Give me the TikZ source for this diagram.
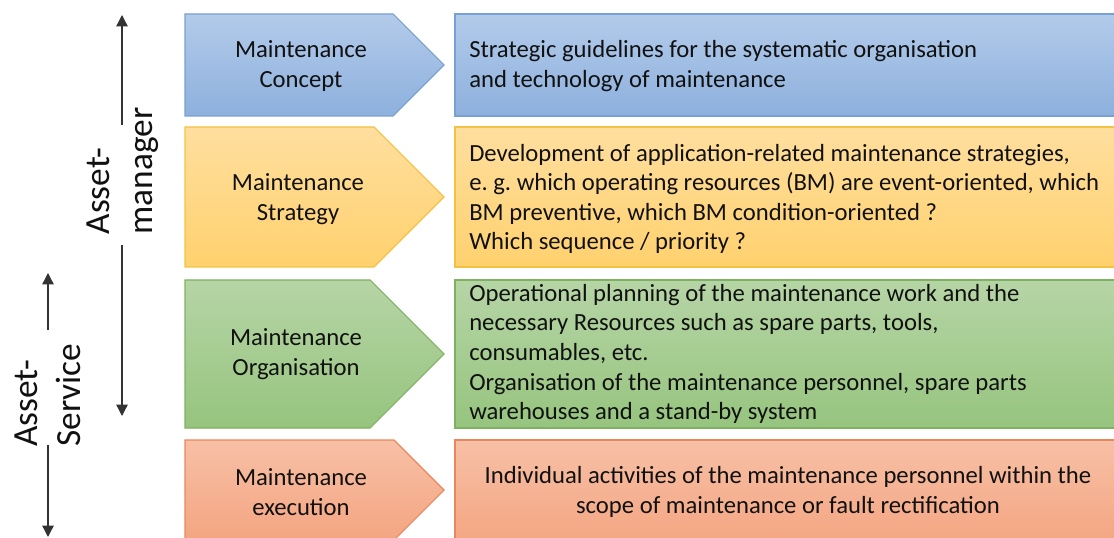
\documentclass[tikz,border=0pt]{standalone}
\usepackage{fontspec}
\setmainfont{Carlito}
\usetikzlibrary{arrows.meta}
\frenchspacing

\definecolor{bluetop}{HTML}{B3CBEA}
\definecolor{bluebot}{HTML}{8DB0DD}
\definecolor{blueline}{HTML}{78A0D2}
\definecolor{oratop}{HTML}{FFDF9F}
\definecolor{orabot}{HTML}{FFD16E}
\definecolor{oraline}{HTML}{F4C143}
\definecolor{grntop}{HTML}{B6D5A6}
\definecolor{grnbot}{HTML}{96C47E}
\definecolor{grnline}{HTML}{7FB162}
\definecolor{redtop}{HTML}{F7C0A6}
\definecolor{redbot}{HTML}{F4A581}
\definecolor{redline}{HTML}{E8875C}
\definecolor{ink}{HTML}{111111}

\tikzset{
  panel/.style={line width=0.8pt},
  bluefill/.style={panel, top color=bluetop, bottom color=bluebot, draw=blueline},
  orafill/.style={panel, top color=oratop, bottom color=orabot, draw=oraline},
  grnfill/.style={panel, top color=grntop, bottom color=grnbot, draw=grnline},
  redfill/.style={panel, top color=redtop, bottom color=redbot, draw=redline},
  levellabel/.style={inner sep=0pt, align=center, text=ink,
    font=\fontsize{18.5}{22.2}\selectfont},
  desclabel/.style={inner sep=0pt, text=ink,
    font=\fontsize{18.5}{22.2}\selectfont},
  rolelabel/.style={inner sep=0pt, align=left, rotate=90, text=ink,
    font=\fontsize{26.5}{32.5}\selectfont},
  rolearrow/.style={line width=1pt, draw=black!80,
    -{Triangle[length=8.5pt, width=8.5pt]}}
}

\begin{document}
\begin{tikzpicture}[x=0.75pt, y=-0.75pt]
  \useasboundingbox (0,0) rectangle (1114,538);
  \clip (0,0) rectangle (1114,538);

  % level chevrons
  \path[bluefill] (185,14) -- (393,14) -- (444,65) -- (393,116) -- (185,116) -- cycle;
  \path[orafill] (185,127) -- (374,127) -- (444,197) -- (374,267) -- (185,267) -- cycle;
  \path[grnfill] (185,280) -- (370,280) -- (444,354) -- (370,428) -- (185,428) -- cycle;
  \path[redfill] (185,440) -- (394,440) -- (444,490) -- (394,540) -- (185,540) -- cycle;

  % description panels
  \path[bluefill] (455,14) rectangle (1122,116);
  \path[orafill] (455,127) rectangle (1122,267);
  \path[grnfill] (455,280) rectangle (1122,428);
  \path[redfill] (455,440) rectangle (1122,545);

  % level names
  \node[levellabel] (concept) at (301,66) {Maintenance\\Concept};
  \node[levellabel] (strategy) at (298,199) {Maintenance\\Strategy};
  \node[levellabel] (organisation) at (296,354) {Maintenance\\Organisation};
  \node[levellabel] (execution) at (301,492) {Maintenance\\execution};

  % descriptions
  \node[desclabel, align=left, anchor=west] (dconcept) at (469,66)
    {Strategic guidelines for the systematic organisation\\and technology of maintenance};
  \node[desclabel, align=left, anchor=west] (dstrategy) at (469,199)
    {Development of application-related maintenance strategies,\\
     e. g. which operating resources (BM) are event-oriented, which\\
     BM preventive, which BM condition-oriented ?\\
     Which sequence / priority ?};
  \node[desclabel, align=left, anchor=west] (dorganisation) at (469,354)
    {Operational planning of the maintenance work and the\\
     necessary Resources such as spare parts, tools,\\
     consumables, etc.\\
     Organisation of the maintenance personnel, spare parts\\
     warehouses and a stand-by system};
  \node[desclabel, align=center] (dexecution) at (788,492)
    {Individual activities of the maintenance personnel within the\\
     scope of maintenance or fault rectification};

  % responsibility ranges
  \node[rolelabel] (manager) at (123,171) {Asset-\\manager};
  \coordinate (mgrtopstart) at (122,125);
  \coordinate (mgrtop) at (122,15);
  \coordinate (mgrbotstart) at (122,245);
  \coordinate (mgrbot) at (122,416);
  \draw[rolearrow] (mgrtopstart) -- (mgrtop);
  \draw[rolearrow] (mgrbotstart) -- (mgrbot);

  \node[rolelabel] (service) at (48,395) {Asset-\\Service};
  \coordinate (svctopstart) at (48,330);
  \coordinate (svctop) at (48,273);
  \coordinate (svcbotstart) at (48,445);
  \coordinate (svcbot) at (48,537);
  \draw[rolearrow] (svctopstart) -- (svctop);
  \draw[rolearrow] (svcbotstart) -- (svcbot);
\end{tikzpicture}
\end{document}
